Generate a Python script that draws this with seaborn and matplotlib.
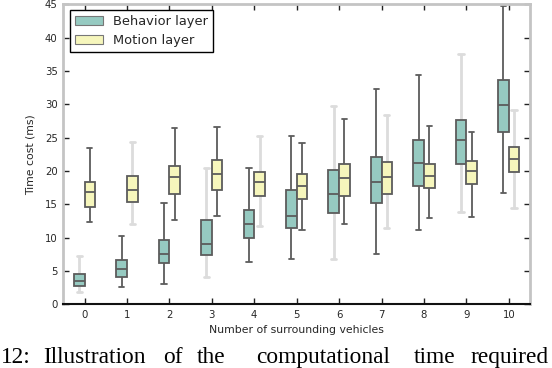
import numpy as np
import pandas as pd
import matplotlib
matplotlib.use("Agg")
import matplotlib.pyplot as plt
import matplotlib.patches as mpatches
import seaborn as sns

# ---- data ----
categories = list(range(11))
behavior_min = [1.8, 2.6, 3.0, 4.1, 6.4, 6.8, 6.8, 7.5, 11.2, 13.9, 16.7]
behavior_q1  = [2.7, 4.1, 6.2, 7.4, 9.9, 11.4, 13.7, 15.2, 17.8, 21.0, 25.9]
behavior_med = [3.45, 5.3, 7.5, 9.0, 12.0, 13.3, 16.6, 18.3, 21.2, 24.6, 29.9]
behavior_q3  = [4.5, 6.6, 9.7, 12.7, 14.1, 17.1, 20.1, 22.1, 24.6, 27.6, 33.6]
behavior_max = [7.2, 10.2, 15.2, 20.5, 20.5, 25.2, 29.7, 32.3, 34.4, 37.5, 44.8]

motion_min = [12.3, 12.1, 12.6, 13.3, 11.7, 11.2, 12.1, 11.5, 13.0, 13.1, 14.5]
motion_q1  = [14.6, 15.3, 16.6, 17.2, 16.2, 15.8, 16.3, 16.6, 17.5, 18.1, 19.9]
motion_med = [16.8, 17.2, 19.1, 19.6, 18.3, 17.7, 18.9, 19.1, 19.3, 20.0, 21.8]
motion_q3  = [18.3, 19.2, 20.7, 21.6, 19.9, 19.5, 21.0, 21.3, 21.1, 21.5, 23.6]
motion_max = [23.4, 24.4, 26.4, 26.6, 25.3, 24.2, 27.8, 28.4, 26.7, 25.9, 29.2]

layers = ["Behavior layer", "Motion layer"]
yticks = [0, 5, 10, 15, 20, 25, 30, 35, 40, 45]

# boxes whose whiskers appear faded in the reference
faded_behavior = [0, 3, 6, 9]
faded_motion = [1, 4, 7, 10]

# ---- build long table: five summary points per box ----
rows = []
for i, c in enumerate(categories):
    for v in (behavior_min[i], behavior_q1[i], behavior_med[i], behavior_q3[i], behavior_max[i]):
        rows.append((str(c), layers[0], v))
    for v in (motion_min[i], motion_q1[i], motion_med[i], motion_q3[i], motion_max[i]):
        rows.append((str(c), layers[1], v))
df = pd.DataFrame(rows, columns=["n", "layer", "t"])

sns.set_style("white")
plt.rcParams["font.family"] = ["DejaVu Sans"]

fig = plt.figure(figsize=(5.52, 3.68), dpi=100)
ax = fig.add_axes([63.3 / 552, 1 - 304.3 / 368, (530 - 63.3) / 552, (304.3 - 4.3) / 368])

dark = "#5c5c5c"
light = "#dcdcdc"
sns.boxplot(data=df, x="n", y="t", hue="layer", palette="Set3",
            width=0.5, gap=0, whis=(0, 100), linecolor=dark, linewidth=1.3,
            showfliers=False, ax=ax, legend=False)

# fade selected whiskers/caps
conts = list(ax.containers)
for cont, faded in zip(conts, [faded_behavior, faded_motion]):
    for i in faded:
        for art in (cont.whiskers[2 * i], cont.whiskers[2 * i + 1],
                    cont.caps[2 * i], cont.caps[2 * i + 1]):
            art.set_color(light)
            art.set_linewidth(2.0)
            art.set_zorder(art.get_zorder() - 0.5)

ax.set_xlim(-0.5, 10.5)
ax.set_ylim(0, 45)
ax.set_yticks(yticks)
ax.set_xticks(range(len(categories)))
ax.set_xticklabels([str(c) for c in categories])

for s in ["left", "top", "right"]:
    ax.spines[s].set_color("#c4c4c4")
    ax.spines[s].set_linewidth(2.0)
ax.spines["bottom"].set_color("#111111")
ax.spines["bottom"].set_linewidth(1.5)

ax.tick_params(axis="both", which="both", direction="in", length=4, width=1,
               color="#222222", labelsize=7.3, top=True, right=True,
               bottom=True, left=True, pad=4)

ax.set_xlabel("Number of surrounding vehicles", fontsize=7.8, labelpad=4)
ax.set_ylabel("Time cost (ms)", fontsize=7.8, labelpad=7)

# legend
handles = []
for cont, lab in zip(conts, layers):
    fc = cont.boxes[0].get_facecolor()
    handles.append(mpatches.Patch(facecolor=fc, edgecolor="#777777", linewidth=0.8, label=lab))
leg = ax.legend(handles=handles, loc="upper left",
                bbox_to_anchor=((70 - 63.3) / 466.7, (304.3 - 10) / 300),
                borderaxespad=0, fontsize=9.4, fancybox=False, framealpha=1,
                handlelength=2.1, handleheight=0.65, handletextpad=0.8,
                borderpad=0.4, labelspacing=0.45)
leg.get_frame().set_edgecolor("black")
leg.get_frame().set_linewidth(1.0)

# caption (figure caption underneath, as in the reference)
cap_words = ["12:", "Illustration", "of", "the", "computational", "time", "required"]
cap_x = [1, 43, 163, 197, 256, 414, 470]
for w, xp in zip(cap_words, cap_x):
    fig.text(xp / 552, 1 - 363 / 368, w, family="Liberation Serif", fontsize=16.8,
             ha="left", va="baseline", color="black")

fig.savefig("out.png", dpi=100)
